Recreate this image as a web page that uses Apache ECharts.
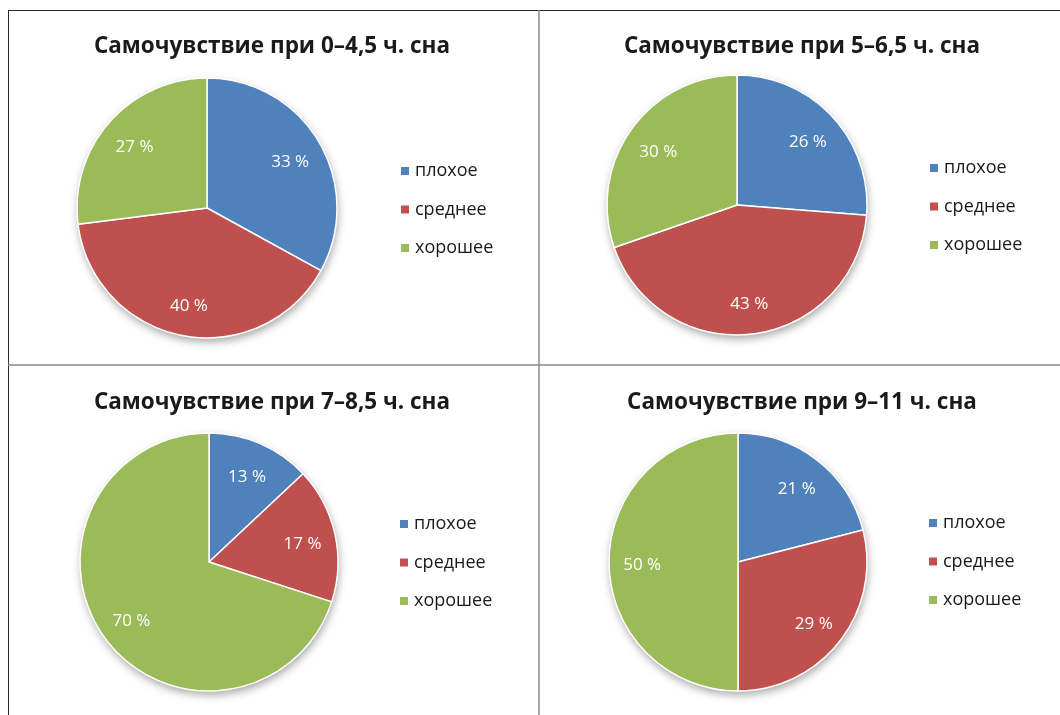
<!DOCTYPE html>
<html>
<head>
<meta charset="utf-8">
<script src="https://cdn.jsdelivr.net/npm/echarts@6/dist/echarts.min.js"></script>
<style>
  html, body { margin: 0; padding: 0; background: #fff; }
  #chart { width: 1060px; height: 715px; }
</style>
</head>
<body>
<div id="chart"></div>
<script>
// Sleep-duration groups and how respondents felt (percent)
const titles = [
  'Самочувствие при 0–4,5 ч. сна',
  'Самочувствие при 5–6,5 ч. сна',
  'Самочувствие при 7–8,5 ч. сна',
  'Самочувствие при 9–11 ч. сна'
];
const categories = ['плохое', 'среднее', 'хорошее'];
const values0 = [33, 40, 27];
const values1 = [26, 43, 30];
const values2 = [13, 17, 70];
const values3 = [21, 29, 50];
const valueSets = [values0, values1, values2, values3];

const colors = ['#4F81BD', '#C0504D', '#9BBB59'];
const FONT = 'Open Sans';

// Layout of the four panels
const panels = [
  { cx: 207, cy: 208, r: 130, titleX: 267, titleY: 30, legX: 399, legY: 162 },
  { cx: 737, cy: 205, r: 130, titleX: 797, titleY: 30, legX: 928, legY: 159 },
  { cx: 209, cy: 562, r: 129, titleX: 267, titleY: 386, legX: 398, legY: 515 },
  { cx: 738, cy: 562, r: 129, titleX: 797, titleY: 386, legX: 927, legY: 514 }
];

const title = [], legend = [], series = [];
panels.forEach((p, i) => {
  const data = categories.map((name, k) => ({ name, value: valueSets[i][k] }));
  title.push({
    text: titles[i],
    left: p.titleX, top: p.titleY, textAlign: 'center',
    textStyle: { fontFamily: FONT, fontSize: 22.5, fontWeight: 'bold', color: '#1a1a1a' }
  });
  legend.push({
    orient: 'vertical', left: p.legX, top: p.legY, padding: 0,
    data: categories, icon: 'rect', itemWidth: 10, itemHeight: 10, itemGap: 20.5,
    selectedMode: false,
    textStyle: { fontFamily: FONT, fontSize: 18, color: '#1a1a1a' }
  });
  // soft drop shadow under the pie
  series.push({
    type: 'pie', silent: true, center: [p.cx, p.cy], radius: p.r,
    startAngle: 90, label: { show: false }, labelLine: { show: false },
    itemStyle: { color: '#fff', shadowColor: 'rgba(0,0,0,0.35)', shadowBlur: 8, shadowOffsetY: 4, shadowOffsetX: 1 },
    data: [{ name: '', value: 1 }], z: 1
  });
  // slices
  series.push({
    type: 'pie', center: [p.cx, p.cy], radius: p.r, startAngle: 90, clockwise: true,
    color: colors, label: { show: false }, labelLine: { show: false },
    itemStyle: { borderColor: '#fff', borderWidth: 1.5 },
    emphasis: { disabled: true },
    data, z: 2
  });
  // value labels, placed at ~0.72 of the radius
  series.push({
    type: 'pie', silent: true, center: [p.cx, p.cy], radius: [p.r * 0.44, p.r],
    startAngle: 90, clockwise: true,
    itemStyle: { color: 'rgba(0,0,0,0)' },
    label: { show: true, position: 'inside', formatter: '{c} %', color: '#fff',
             fontFamily: FONT, fontSize: 17, offset: [0, 3] },
    labelLine: { show: false },
    emphasis: { disabled: true },
    data, z: 3
  });
});

const lineStyleOuter = { stroke: '#2b2b2b', lineWidth: 1 };
const lineStyleInner = { stroke: '#8a8a8a', lineWidth: 1.5 };

const chart = echarts.init(document.getElementById('chart'), null, { renderer: 'canvas' });
chart.setOption({
  backgroundColor: '#fff',
  animation: false,
  title, legend, series,
  graphic: [
    { type: 'line', shape: { x1: 8, y1: 10.5, x2: 1060, y2: 10.5 }, style: lineStyleOuter, silent: true },
    { type: 'line', shape: { x1: 8.5, y1: 10, x2: 8.5, y2: 715 }, style: lineStyleOuter, silent: true },
    { type: 'line', shape: { x1: 539, y1: 10, x2: 539, y2: 715 }, style: lineStyleInner, silent: true },
    { type: 'line', shape: { x1: 8, y1: 365, x2: 1060, y2: 365 }, style: lineStyleInner, silent: true }
  ]
});
</script>
</body>
</html>
